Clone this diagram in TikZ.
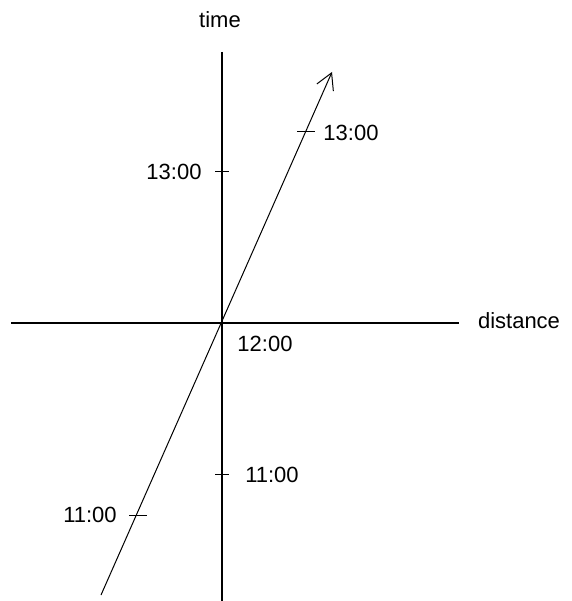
\documentclass[tikz,border=0pt]{standalone}
\usepackage{fontspec}
\setmainfont{Liberation Sans}
\usetikzlibrary{arrows.meta}

\begin{document}
\begin{tikzpicture}[
  x=1pt, y=-1pt,
  axis/.style={line width=1.2pt},
  worldline/.style={line width=1pt, -{Straight Barb[length=16pt, width=18pt, line width=1pt]}},
  tickmark/.style={line width=1pt},
  lbl/.style={font=\fontsize{22}{26}\selectfont, inner sep=0pt}
]
\useasboundingbox (0,0) rectangle (571,601);

% axes
\coordinate (origin) at (222,323);
\coordinate (xleft) at (11,323);
\coordinate (xright) at (459,323);
\coordinate (ytop) at (222,52);
\coordinate (ybot) at (222,601);
\draw[axis] (xleft) -- (xright);
\draw[axis] (ytop) -- (ybot);
\node[lbl] (timelbl) at (220,20) {time};
\node[lbl] (distlbl) at (519,321) {distance};

% moving object
\coordinate (linestart) at (101,595);
\coordinate (linetip) at (332,72);
\draw[worldline] (linestart) -- (linetip);

% ticks
\coordinate (axis13) at (222,172);
\coordinate (axis11) at (222,474);
\coordinate (line13) at (306,132);
\coordinate (line11) at (138,515);
\foreach \t in {axis13,axis11}
  \draw[tickmark] ([xshift=-7pt]\t) -- ([xshift=7pt]\t);
\foreach \t in {line13,line11}
  \draw[tickmark] ([xshift=-9pt]\t) -- ([xshift=9pt]\t);

% times
\node[lbl] (axis13lbl) at (174,172) {13:00};
\node[lbl] (axis11lbl) at (272,475) {11:00};
\node[lbl] (line13lbl) at (351,133) {13:00};
\node[lbl] (line11lbl) at (90,515) {11:00};
\node[lbl] (noonlbl) at (265,344) {12:00};
\end{tikzpicture}
\end{document}
